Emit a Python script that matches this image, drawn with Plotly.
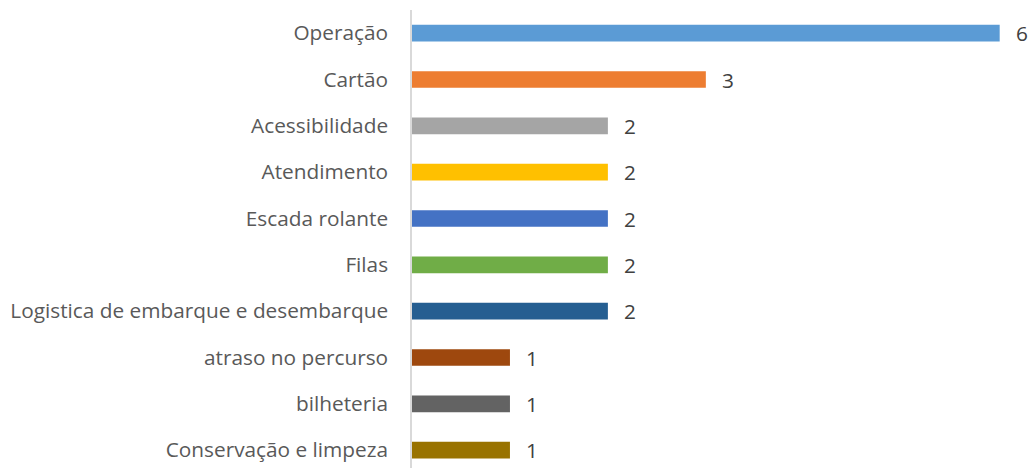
import plotly.graph_objects as go

# Complaint categories and their counts, top to bottom
categories = [
    "Operação",
    "Cartão",
    "Acessibilidade",
    "Atendimento",
    "Escada rolante",
    "Filas",
    "Logistica de embarque e desembarque",
    "atraso no percurso",
    "bilheteria",
    "Conservação e limpeza",
]
counts = [6, 3, 2, 2, 2, 2, 2, 1, 1, 1]
colors = [
    "#5B9BD5", "#ED7D31", "#A5A5A5", "#FFC000", "#4472C4",
    "#70AD47", "#255E91", "#9E480E", "#636363", "#997300",
]

FONT = "Open Sans"
TEXT_COLOR = "#595959"
SIZE = 20.8

fig = go.Figure(
    go.Bar(
        x=counts,
        y=categories,
        orientation="h",
        marker=dict(color=colors, line=dict(width=0)),
        width=0.36,
        hoverinfo="x+y",
    )
)

# Value labels placed just past the end of each bar
for cat, val in zip(categories, counts):
    fig.add_annotation(
        x=val, y=cat, text=str(val), showarrow=False,
        xanchor="center", yanchor="middle", xshift=22,
        font=dict(family=FONT, size=SIZE, color="#404040"),
    )

fig.update_layout(
    width=1032,
    height=468,
    margin=dict(l=412, r=0, t=10, b=0),
    paper_bgcolor="white",
    plot_bgcolor="white",
    showlegend=False,
    font=dict(family=FONT, size=SIZE, color=TEXT_COLOR),
)
fig.update_xaxes(
    range=[0, 6.33],
    showgrid=False, zeroline=False, showline=False,
    showticklabels=False, ticks="",
)
fig.update_yaxes(
    type="category",
    categoryorder="array",
    categoryarray=categories,
    range=[9.385, -0.5],
    showgrid=False, zeroline=False,
    showline=True, linecolor="#D9D9D9", linewidth=1.5,
    ticks="", ticklabelstandoff=18,
    tickfont=dict(family=FONT, size=SIZE, color=TEXT_COLOR),
)

fig.write_html("out.html")
